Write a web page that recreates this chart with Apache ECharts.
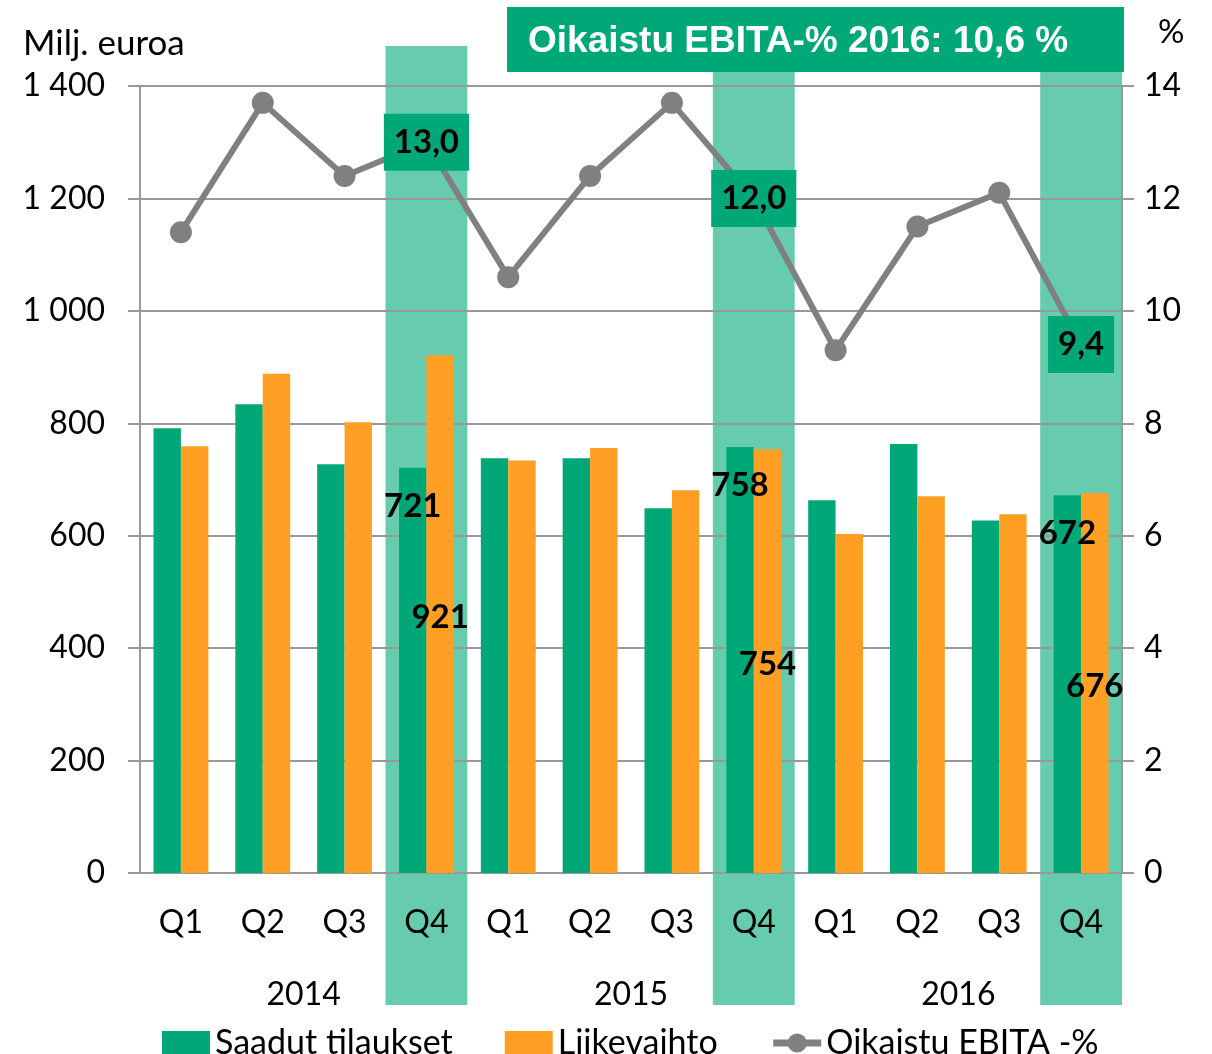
<!DOCTYPE html>
<html>
<head>
<meta charset="utf-8">
<script src="https://cdn.jsdelivr.net/npm/echarts@6/dist/echarts.min.js"></script>
<style>
  html, body { margin: 0; padding: 0; background: #fff; }
  #chart { width: 1212px; height: 1054px; }
</style>
</head>
<body>
<div id="chart"></div>
<script>
// neljännekset ja vuodet
var quarters = ["Q1", "Q2", "Q3", "Q4", "Q1", "Q2", "Q3", "Q4", "Q1", "Q2", "Q3", "Q4"];
var years = ["2014", "2015", "2016"];
// Milj. euroa
var tilaukset = [791, 834, 727, 721, 738, 738, 649, 758, 663, 763, 627, 672];
var liikevaihto = [759, 888, 802, 921, 734, 756, 681, 754, 603, 670, 638, 676];
// %
var ebita = [11.4, 13.7, 12.4, 13.0, 10.6, 12.4, 13.7, 12.0, 9.3, 11.5, 12.1, 9.4];
var leftTicks = [0, 1400, 200];
var rightTicks = [0, 14, 2];

var GREEN = "#00A878";
var ORANGE = "#FFA024";
var BAND = "#66CCAD";
var GRAY = "#808080";
var AXIS = "#999999";
var FONT = "Lato, 'Open Sans', sans-serif";

var q4Index = [];
quarters.forEach(function (q, i) { if (q === "Q4") q4Index.push([i, 0]); });

function isQ4(i) { return quarters[i] === "Q4"; }
function fmtThousand(v) { return String(v).replace(/\B(?=(\d{3})+(?!\d))/g, " "); }

var myChart = echarts.init(document.getElementById("chart"));

myChart.setOption({
  animation: false,
  textStyle: { fontFamily: FONT },
  grid: { left: 140, right: 90, top: 86, bottom: 181 },
  title: [
    { text: "Milj. euroa", left: 18, top: 21, textStyle: { fontFamily: FONT, fontSize: 35, fontWeight: "normal", color: "#000" } },
    { text: "%", left: 1153, top: 11, textStyle: { fontFamily: FONT, fontSize: 33, fontWeight: "normal", color: "#000" } }
  ],
  graphic: [
    {
      type: "group", left: 507, top: 7, z: 100,
      children: [
        { type: "rect", shape: { x: 0, y: 0, width: 617, height: 65 }, style: { fill: GREEN } },
        {
          type: "text", x: 21, y: 35,
          style: {
            text: "Oikaistu EBITA-% 2016: 10,6 %",
            font: "bold 37px 'Liberation Sans Narrow', 'Liberation Sans', Arial, sans-serif",
            fill: "#fff", verticalAlign: "middle"
          }
        }
      ]
    }
  ],
  legend: {
    left: 157, top: 1021,
    itemWidth: 48, itemHeight: 24, itemGap: 52,
    textStyle: { fontFamily: FONT, fontSize: 34, color: "#000" },
    data: [
      { name: "Saadut tilaukset", icon: "rect" },
      { name: "Liikevaihto", icon: "rect" },
      { name: "Oikaistu EBITA -%", lineStyle: { width: 7, color: GRAY }, itemStyle: { color: GRAY } }
    ]
  },
  xAxis: [
    {
      type: "category",
      data: quarters,
      axisLine: { lineStyle: { color: AXIS, width: 2 } },
      axisTick: { interval: 0, length: 69, lineStyle: { color: AXIS, width: 2 } },
      axisLabel: { interval: 0, margin: 34, fontSize: 32, color: "#000", fontFamily: FONT }
    },
    {
      type: "category",
      data: years,
      position: "bottom",
      axisLine: { show: false },
      axisTick: { length: 141, lineStyle: { color: AXIS, width: 2 } },
      axisLabel: { margin: 106, fontSize: 32, color: "#000", fontFamily: FONT }
    }
  ],
  yAxis: [
    {
      type: "value",
      min: leftTicks[0], max: leftTicks[1], interval: leftTicks[2],
      axisLine: { show: true, lineStyle: { color: AXIS, width: 2 } },
      axisTick: { show: true, length: 12, lineStyle: { color: AXIS, width: 2 } },
      splitLine: { lineStyle: { color: AXIS, width: 2 } },
      axisLabel: { margin: 35, fontSize: 32, color: "#000", fontFamily: FONT, formatter: fmtThousand }
    },
    {
      type: "value",
      min: rightTicks[0], max: rightTicks[1], interval: rightTicks[2],
      axisLine: { show: true, lineStyle: { color: AXIS, width: 2 } },
      axisTick: { show: true, length: 12, lineStyle: { color: AXIS, width: 2 } },
      splitLine: { show: false },
      axisLabel: { margin: 22, fontSize: 32, color: "#000", fontFamily: FONT }
    }
  ],
  series: [
    {
      // Q4-korostus
      type: "custom",
      z: -1,
      silent: true,
      xAxisIndex: 0,
      yAxisIndex: 0,
      encode: { x: 0, y: 1 },
      data: q4Index,
      renderItem: function (params, api) {
        var c = api.coord([api.value(0), 0]);
        var w = api.size([1, 0])[0];
        var cs = params.coordSys;
        return {
          type: "rect",
          shape: { x: c[0] - w / 2, y: cs.y - 40, width: w, height: cs.height + 40 + 132 },
          style: { fill: BAND }
        };
      }
    },
    {
      name: "Saadut tilaukset",
      type: "bar",
      barGap: "0%",
      barCategoryGap: "33%",
      itemStyle: { color: GREEN },
      data: tilaukset.map(function (v, i) {
        return {
          value: v,
          label: {
            show: isQ4(i), position: "insideTop", distance: 22,
            fontSize: 33, fontWeight: "bold", color: "#000", fontFamily: FONT
          }
        };
      })
    },
    {
      name: "Liikevaihto",
      type: "bar",
      itemStyle: { color: ORANGE },
      data: liikevaihto.map(function (v, i) {
        return {
          value: v,
          label: {
            show: isQ4(i), position: "inside", offset: [0, 3],
            fontSize: 33, fontWeight: "bold", color: "#000", fontFamily: FONT
          }
        };
      })
    },
    {
      name: "Oikaistu EBITA -%",
      type: "line",
      yAxisIndex: 1,
      z: 5,
      symbol: "circle",
      symbolSize: 22,
      lineStyle: { color: GRAY, width: 6 },
      itemStyle: { color: GRAY },
      data: ebita.map(function (v, i) {
        return {
          value: v,
          label: {
            show: isQ4(i), position: "inside",
            formatter: function (p) { return p.value.toFixed(1).replace(".", ","); },
            fontSize: 33, fontWeight: "bold", color: "#000", fontFamily: FONT,
            backgroundColor: GREEN, padding: [13, 10, 11, 10]
          }
        };
      })
    }
  ]
});
</script>
</body>
</html>
